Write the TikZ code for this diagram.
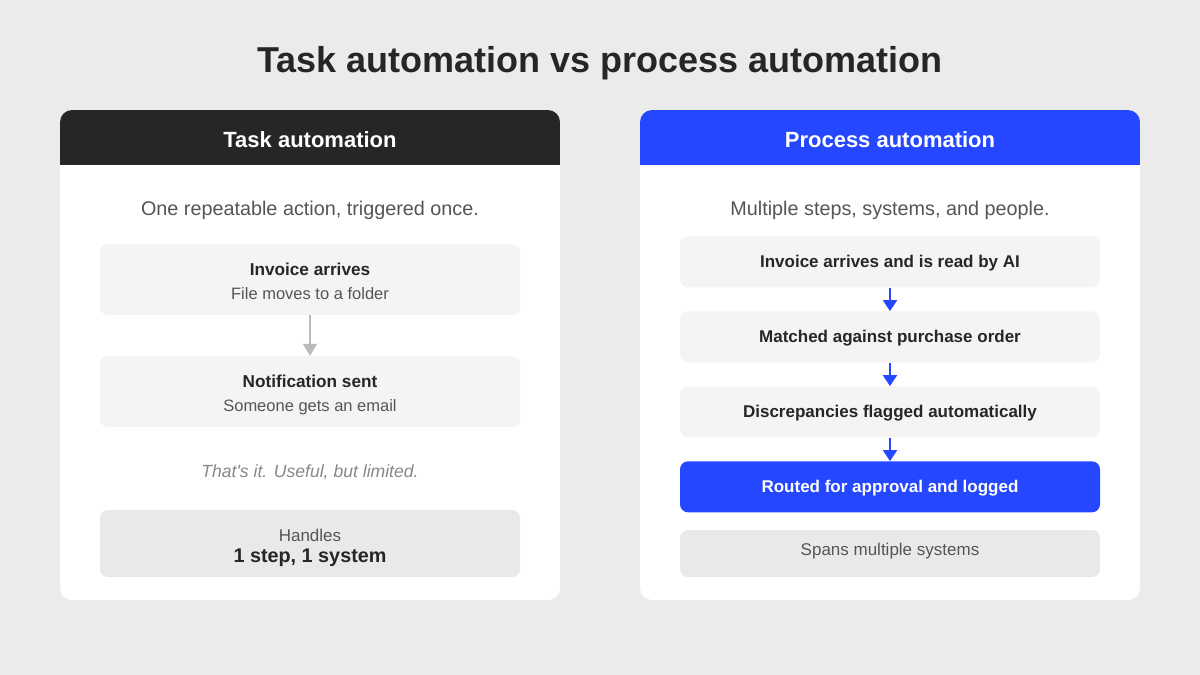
\documentclass[tikz,border=0pt]{standalone}
\usepackage{fontspec}
\setmainfont{Liberation Sans}
\usetikzlibrary{arrows.meta}
\definecolor{bgc}{HTML}{EBEBEB}
\definecolor{darkc}{HTML}{262626}
\definecolor{bluec}{HTML}{2447FF}
\definecolor{boxc}{HTML}{F4F4F4}
\definecolor{sumc}{HTML}{E9E9E9}
\definecolor{txtc}{HTML}{262626}
\definecolor{subc}{HTML}{555555}
\definecolor{itc}{HTML}{888888}
\definecolor{arrg}{HTML}{BBBBBB}
\tikzset{
  card/.style={fill=white, rounded corners=12pt, minimum width=500pt, minimum height=490pt, inner sep=0pt},
  stepbox/.style={fill=boxc, rounded corners=8pt, minimum width=420pt, inner sep=0pt},
  sumbox/.style={fill=sumc, rounded corners=8pt, minimum width=420pt, inner sep=0pt},
  bluebox/.style={fill=bluec, rounded corners=8pt, minimum width=420pt, inner sep=0pt},
  captext/.style={inner sep=0pt, text height=#1, text depth=0pt},
  titletxt/.style={captext=25.8pt, text=txtc, font=\fontsize{36}{43}\selectfont\bfseries},
  headtxt/.style={captext=15.75pt, text=white, font=\fontsize{22}{26}\selectfont\bfseries},
  subtxt/.style={captext=14.2pt, text=subc, font=\fontsize{19.8}{24}\selectfont},
  boldtxt/.style={captext=12.3pt, text=txtc, font=\fontsize{17.2}{20}\selectfont\bfseries},
  smalltxt/.style={captext=11.8pt, text=subc, font=\fontsize{16.5}{20}\selectfont},
  handtxt/.style={captext=12.2pt, text=subc, font=\fontsize{17}{20}\selectfont},
  bigbold/.style={captext=14.2pt, text=txtc, font=\fontsize{19.8}{24}\selectfont\bfseries},
  ittxt/.style={captext=12.6pt, text=itc, font=\fontsize{17.6}{21}\selectfont\itshape},
  grayarrow/.style={draw=arrg, line width=2pt, -{Triangle[width=14pt,length=12pt]}},
  bluearrow/.style={draw=bluec, line width=2pt, -{Triangle[width=14pt,length=11pt]}},
}
\begin{document}
\begin{tikzpicture}[x=1pt,y=-1pt]
\fill[bgc] (0,0) rectangle (1200,675);
\useasboundingbox (0,0) rectangle (1200,675);
\node[titletxt] (title) at (600,60) {Task automation vs process automation};

% left card
\node[card] (lcard) at (310,355) {};
\begin{scope}
\clip[rounded corners=12pt] (60,110) rectangle (560,600);
\fill[darkc] (60,110) rectangle (560,165);
\end{scope}
\node[headtxt] (lhead) at (310,139.2) {Task automation};
\node[subtxt] (lsub) at (310,208.5) {One repeatable action, triggered once.};
\node[stepbox, minimum height=71pt] (l1) at (310,279.5) {};
\node[boldtxt] (l1a) at (310,269.5) {Invoice arrives};
\node[smalltxt] (l1b) at (310,294) {File moves to a folder};
\node[stepbox, minimum height=71pt] (l2) at (310,391.5) {};
\node[boldtxt] (l2a) at (310,381.5) {Notification sent};
\node[smalltxt] (l2b) at (310,405.7) {Someone gets an email};
\draw[grayarrow] (l1.south) -- (l2.north);
\node[ittxt] (lit) at (310,471.3) {That\textquotesingle s it. Useful, but limited.};
\node[sumbox, minimum height=67pt] (l3) at (310,543.5) {};
\node[handtxt] (l3a) at (310,535) {Handles};
\node[bigbold] (l3b) at (310,555.8) {1 step, 1 system};

% right card
\node[card] (rcard) at (890,355) {};
\begin{scope}
\clip[rounded corners=12pt] (640,110) rectangle (1140,600);
\fill[bluec] (640,110) rectangle (1140,165);
\end{scope}
\node[headtxt] (rhead) at (890,139.2) {Process automation};
\node[subtxt] (rsub) at (890,208) {Multiple steps, systems, and people.};
\node[stepbox, minimum height=51pt, boldtxt, font=\fontsize{17}{20}\selectfont\bfseries] (r1) at (890,261.8) {Invoice arrives and is read by AI};
\node[stepbox, minimum height=51pt, boldtxt, font=\fontsize{17}{20}\selectfont\bfseries] (r2) at (890,336.8) {Matched against purchase order};
\node[stepbox, minimum height=51pt, boldtxt, font=\fontsize{17}{20}\selectfont\bfseries] (r3) at (890,411.8) {Discrepancies flagged automatically};
\node[bluebox, minimum height=51pt, boldtxt, font=\fontsize{17}{20}\selectfont\bfseries, text=white] (r4) at (890,486.8) {Routed for approval and logged};
\node[sumbox, minimum height=47pt] (r5) at (890,553.5) {};
\node[handtxt] (r5t) at (890,549.5) {Spans multiple systems};
\draw[bluearrow] (r1.south) -- (r2.north);
\draw[bluearrow] (r2.south) -- (r3.north);
\draw[bluearrow] (r3.south) -- (r4.north);
\end{tikzpicture}
\end{document}
